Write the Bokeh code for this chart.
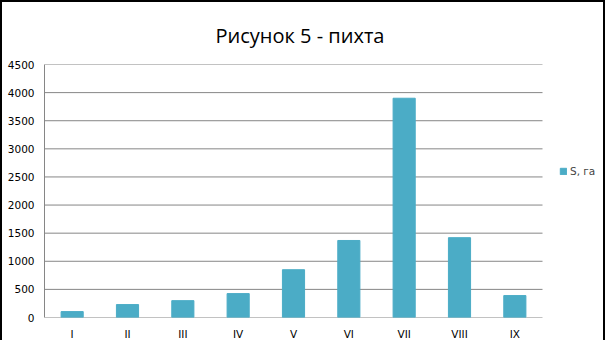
from bokeh.plotting import figure
from bokeh.models import Legend, LegendItem, FixedTicker, ColumnDataSource, Title, Range1d
from bokeh.embed import file_html
from bokeh.resources import INLINE

categories = ["I", "II", "III", "IV", "V", "VI", "VII", "VIII", "IX"]
values = [105, 230, 300, 425, 850, 1370, 3900, 1420, 390]
y_ticks = [0, 500, 1000, 1500, 2000, 2500, 3000, 3500, 4000, 4500]
series_name = "S, га"
title_text = "Рисунок 5 - пихта"

x_pos = list(range(1, len(categories) + 1))
src = ColumnDataSource(dict(x=x_pos, val=values))

# plot area covers 9 categories in 498 px; canvas frame extends to the right edge
px_per_cat = 498 / len(categories)
x_end = 0.5 + 559 / px_per_cat

p = figure(x_range=Range1d(0.5, x_end), y_range=Range1d(0, 4500),
           width=601, height=336, frame_width=559, frame_height=253,
           output_backend="svg", toolbar_location=None,
           min_border_left=42, min_border_right=0, min_border_top=62,
           min_border_bottom=21)
p.styles = {"border": "2px solid black"}
p.title = None
t = Title(text=title_text, align="left", offset=171, text_font="Open Sans",
          text_font_size="20px", text_font_style="normal", text_color="#000000",
          standoff=32)
p.add_layout(t, "above")

# horizontal grid lines limited to the category area
p.segment(x0=[0.5] * len(y_ticks), x1=[len(categories) + 0.5] * len(y_ticks),
          y0=y_ticks, y1=y_ticks, line_color="#868686", line_width=1)

r = p.vbar(x="x", top="val", width=0.4, source=src, color="#4BACC6")

p.outline_line_color = None
p.xgrid.grid_line_color = None
p.ygrid.grid_line_color = None
p.yaxis.ticker = FixedTicker(ticks=y_ticks)
p.xaxis.ticker = FixedTicker(ticks=x_pos)
p.xaxis.major_label_overrides = {x: c for x, c in zip(x_pos, categories)}
for ax in (p.xaxis[0], p.yaxis[0]):
    ax.axis_line_color = "#868686"
    ax.major_tick_line_color = None
    ax.minor_tick_line_color = None
    ax.major_label_text_font = "DejaVu Sans"
    ax.major_label_text_font_size = "10.5px"
    ax.major_label_text_color = "#000000"
p.xaxis.axis_line_color = None
p.yaxis.major_label_standoff = 4
p.xaxis.major_label_standoff = 4

legend = Legend(items=[LegendItem(label=series_name, renderers=[r])],
                location=(515, 140), border_line_color=None,
                background_fill_alpha=0, padding=0, margin=0,
                glyph_width=8, glyph_height=8, label_standoff=3,
                label_text_font="DejaVu Sans", label_text_font_size="10.5px")
p.add_layout(legend, "center")

open("out.html", "w").write(file_html(p, INLINE))
